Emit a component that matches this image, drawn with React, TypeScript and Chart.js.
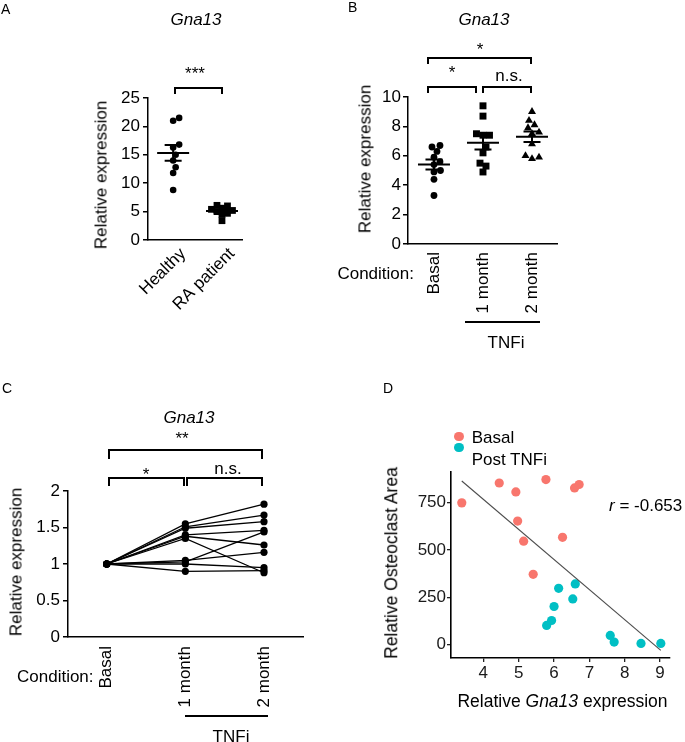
import React, { useEffect, useRef } from 'react';
import { Chart, registerables } from 'chart.js';

Chart.register(...registerables);

const FONT = "'Liberation Sans', Arial, Helvetica, sans-serif";

// ---------------- Panel A data ----------------
const aCategories = ['Healthy', 'RA patient'];
const aHealthy = [21.5, 21.0, 16.8, 16.3, 15.0, 14.0, 12.8, 11.8, 8.8];
const aRA = [6.1, 6.0, 5.6, 5.4, 5.2, 5.0, 4.7, 4.5, 3.4];
const aYTicks = [0, 5, 10, 15, 20, 25];

// ---------------- Panel B data ----------------
const bCategories = ['Basal', '1 month', '2 month'];
const bBasal = [6.7, 6.6, 6.3, 5.9, 5.6, 5.4, 5.0, 4.9, 4.4, 3.3];
const bMonth1 = [9.4, 8.7, 7.5, 7.4, 7.4, 6.6, 6.2, 5.5, 5.3, 4.9];
const bMonth2 = [9.0, 8.4, 8.1, 7.9, 7.6, 7.5, 6.8, 6.0, 5.9, 5.8];
const bYTicks = [0, 2, 4, 6, 8, 10];

// ---------------- Panel C data ----------------
const cCategories = ['Basal', '1 month', '2 month'];
const cBasal = [1, 1, 1, 1, 1, 1, 1, 1, 1, 1];
const cMonth1 = [1.55, 1.51, 1.49, 1.40, 1.38, 1.35, 1.03, 1.05, 1.00, 0.90];
const cMonth2 = [1.82, 1.67, 1.58, 1.46, 1.26, 0.88, 1.44, 1.16, 0.95, 0.91];
const cYTicks = [0, 0.5, 1, 1.5, 2];

// ---------------- Panel D data ----------------
const dBasalX = [3.39, 4.45, 4.92, 5.77, 6.58, 6.71, 4.97, 5.14, 6.24, 5.41];
const dBasalY = [749, 854, 807, 872, 828, 846, 653, 547, 567, 372];
const dPostX = [6.13, 6.60, 6.53, 6.00, 5.93, 5.79, 7.59, 7.70, 8.46, 9.02];
const dPostY = [298, 321, 242, 202, 128, 102, 49, 14, 7, 7];
const dXTicks = [4, 5, 6, 7, 8, 9];
const dYTicks = [0, 250, 500, 750];
const dLegend = ['Basal', 'Post TNFi'];
const dColors = ['#F8766D', '#00BFC4'];

// ---------------- layout helpers ----------------
type Box = { x: number; y: number; w: number; h: number };
type Area = { l: number; t: number; r: number; b: number };
const YW = 40;
const XH_CAT = 90;
const XH_D = 30;

const boxA: Box = { x: 0, y: 0, w: 260, h: 340 };
const areaA: Area = { l: 148, t: 98, r: 242, b: 240 };
const xRangeA = [0.485, 2.41];
const boxB: Box = { x: 330, y: 0, w: 240, h: 340 };
const areaB: Area = { l: 408, t: 97, r: 557, b: 244 };
const xRangeB = [0.47, 3.51];
const boxC: Box = { x: 0, y: 370, w: 330, h: 372 };
const areaC: Area = { l: 68, t: 491, r: 303, b: 637 };
const xRangeC = [0.508, 3.496];
const boxD: Box = { x: 340, y: 380, w: 345, h: 362 };
const areaD: Area = { l: 451, t: 472, r: 670, b: 658 };
const xRangeD = [3.085, 9.28];
const yRangeD = [-70, 912];

function layoutFor(box: Box, area: Area, xh: number) {
  return {
    padding: {
      left: area.l - box.x - YW,
      top: area.t - box.y,
      right: box.x + box.w - area.r,
      bottom: box.y + box.h - area.b - xh,
    },
  };
}

function yAxis(min: number, max: number, ticks: number[], tickLen: number, pad: number) {
  return {
    type: 'linear',
    min,
    max,
    afterBuildTicks: (s: any) => {
      s.ticks = ticks.map((v) => ({ value: v }));
    },
    afterFit: (s: any) => {
      s.width = YW;
    },
    grid: { display: true, drawOnChartArea: false, drawTicks: true, tickLength: tickLen, color: '#000', lineWidth: 1.5 },
    border: { display: true, color: '#000', width: 1.5 },
    ticks: { font: { family: FONT, size: 17 }, color: '#000', padding: pad, callback: (v: any) => `${v}` },
  };
}

function xCatAxis(range: number[], cats: string[], rotation: number, pad: number, labelOffset = 0) {
  return {
    type: 'linear',
    min: range[0],
    max: range[1],
    afterBuildTicks: (s: any) => {
      s.ticks = cats.map((_, i) => ({ value: i + 1 }));
    },
    afterFit: (s: any) => {
      s.height = XH_CAT;
    },
    grid: { display: false, drawTicks: false },
    border: { display: true, color: '#000', width: 1.5 },
    ticks: {
      autoSkip: false,
      minRotation: rotation,
      maxRotation: rotation,
      labelOffset,
      font: { family: FONT, size: 17 },
      color: '#000',
      padding: pad,
      callback: (v: any) => cats[Math.round(v) - 1] ?? '',
    },
  };
}

// beeswarm offsets (pixels) computed from values
function swarm(values: number[], pxPerY: number, diam: number): number[] {
  const order = values.map((_, i) => i).sort((a, b) => values[a] - values[b]);
  const placed: { x: number; y: number }[] = [];
  const out = new Array(values.length).fill(0);
  for (const i of order) {
    const y = values[i] * pxPerY;
    let best = 0;
    for (let k = 0; k < 400; k++) {
      const cand = k === 0 ? 0 : (k % 2 ? 1 : -1) * Math.ceil(k / 2) * 0.5;
      if (placed.every((p) => Math.hypot(p.x - cand, p.y - y) >= diam)) {
        best = cand;
        break;
      }
    }
    placed.push({ x: best, y });
    out[i] = best;
  }
  return out;
}

function swarmPoints(values: number[], cat: number, area: Area, xr: number[], yMax: number, diam: number) {
  const pxPerY = (area.b - area.t) / yMax;
  const pxPerX = (area.r - area.l) / (xr[1] - xr[0]);
  const offs = swarm(values, pxPerY, diam);
  return values.map((v, i) => ({ x: cat + offs[i] / pxPerX, y: v }));
}

const meanSemPlugin = {
  id: 'meanSem',
  afterDatasetsDraw(chart: any) {
    const { ctx } = chart;
    const x = chart.scales.x;
    const y = chart.scales.y;
    chart.data.datasets.forEach((ds: any) => {
      if (!ds.raw) return;
      const vals: number[] = ds.raw;
      const n = vals.length;
      const mean = vals.reduce((a, b) => a + b, 0) / n;
      const sd = Math.sqrt(vals.reduce((a, b) => a + (b - mean) ** 2, 0) / (n - 1));
      const sem = sd / Math.sqrt(n);
      const cx = x.getPixelForValue(ds.cat);
      const ym = y.getPixelForValue(mean);
      const yt = y.getPixelForValue(mean + sem);
      const yb = y.getPixelForValue(mean - sem);
      ctx.save();
      ctx.strokeStyle = '#000';
      ctx.lineWidth = 2;
      ctx.beginPath();
      ctx.moveTo(cx - 16, ym);
      ctx.lineTo(cx + 16, ym);
      ctx.moveTo(cx - 8.5, yt);
      ctx.lineTo(cx + 8.5, yt);
      ctx.moveTo(cx - 8.5, yb);
      ctx.lineTo(cx + 8.5, yb);
      ctx.moveTo(cx, yt);
      ctx.lineTo(cx, yb);
      ctx.stroke();
      ctx.restore();
    });
  },
};

function groupDataset(values: number[], cat: number, area: Area, xr: number[], yMax: number, style: string, radius: number, diam: number) {
  return {
    type: 'scatter',
    data: swarmPoints(values, cat, area, xr, yMax, diam),
    raw: values,
    cat,
    pointStyle: style,
    pointRadius: radius,
    pointHoverRadius: radius,
    backgroundColor: '#000',
    borderColor: '#000',
    borderWidth: 0,
  };
}

function makeA() {
  return {
    type: 'scatter',
    data: {
      datasets: [
        groupDataset(aHealthy, 1, areaA, xRangeA, 25, 'circle', 3.3, 6.2),
        groupDataset(aRA, 2, areaA, xRangeA, 25, 'rect', 4.8, 5.5),
      ],
    },
    options: {
      responsive: false,
      animation: false,
      devicePixelRatio: 1,
      layout: layoutFor(boxA, areaA, XH_CAT),
      plugins: { legend: { display: false }, tooltip: { enabled: false } },
      scales: {
        x: xCatAxis(xRangeA, aCategories, 45, 4, 10),
        y: yAxis(0, 25, aYTicks, 5, 3),
      },
    },
    plugins: [meanSemPlugin],
  };
}

function makeB() {
  return {
    type: 'scatter',
    data: {
      datasets: [
        groupDataset(bBasal, 1, areaB, xRangeB, 10, 'circle', 3.4, 6.5),
        groupDataset(bMonth1, 2, areaB, xRangeB, 10, 'rect', 4.9, 6.5),
        groupDataset(bMonth2, 3, areaB, xRangeB, 10, 'triangle', 4.6, 7),
      ],
    },
    options: {
      responsive: false,
      animation: false,
      devicePixelRatio: 1,
      layout: layoutFor(boxB, areaB, XH_CAT),
      plugins: { legend: { display: false }, tooltip: { enabled: false } },
      scales: {
        x: xCatAxis(xRangeB, bCategories, 90, 8),
        y: yAxis(0, 10, bYTicks, 5, 2),
      },
    },
    plugins: [meanSemPlugin],
  };
}

function makeC() {
  const datasets = cMonth1.map((_, i) => ({
    type: 'line',
    data: [
      { x: 1, y: cBasal[i] },
      { x: 2, y: cMonth1[i] },
      { x: 3, y: cMonth2[i] },
    ],
    borderColor: '#000',
    borderWidth: 1.3,
    pointRadius: 3.6,
    pointHoverRadius: 3.6,
    pointBackgroundColor: '#000',
    pointBorderWidth: 0,
    tension: 0,
  }));
  return {
    type: 'line',
    data: { datasets },
    options: {
      responsive: false,
      animation: false,
      devicePixelRatio: 1,
      layout: layoutFor(boxC, areaC, XH_CAT),
      plugins: { legend: { display: false }, tooltip: { enabled: false } },
      scales: {
        x: xCatAxis(xRangeC, cCategories, 90, 9),
        y: yAxis(0, 2, cYTicks, 5, 3),
      },
    },
  };
}

function makeD() {
  const xs = [...dBasalX, ...dPostX];
  const ys = [...dBasalY, ...dPostY];
  const n = xs.length;
  const mx = xs.reduce((a, b) => a + b, 0) / n;
  const my = ys.reduce((a, b) => a + b, 0) / n;
  let sxy = 0;
  let sxx = 0;
  for (let i = 0; i < n; i++) {
    sxy += (xs[i] - mx) * (ys[i] - my);
    sxx += (xs[i] - mx) ** 2;
  }
  const slope = sxy / sxx;
  const icpt = my - slope * mx;
  const x0 = Math.min(...xs);
  const x1 = Math.max(...xs);
  return {
    type: 'scatter',
    data: {
      datasets: [
        {
          type: 'line',
          data: [
            { x: x0, y: icpt + slope * x0 },
            { x: x1, y: icpt + slope * x1 },
          ],
          borderColor: '#4d4d4d',
          borderWidth: 1.1,
          pointRadius: 0,
        },
        {
          label: dLegend[0],
          data: dBasalX.map((x, i) => ({ x, y: dBasalY[i] })),
          backgroundColor: dColors[0],
          borderWidth: 0,
          pointRadius: 4.6,
          pointHoverRadius: 4.6,
        },
        {
          label: dLegend[1],
          data: dPostX.map((x, i) => ({ x, y: dPostY[i] })),
          backgroundColor: dColors[1],
          borderWidth: 0,
          pointRadius: 4.6,
          pointHoverRadius: 4.6,
        },
      ],
    },
    options: {
      responsive: false,
      animation: false,
      devicePixelRatio: 1,
      layout: layoutFor(boxD, areaD, XH_D),
      plugins: { legend: { display: false }, tooltip: { enabled: false } },
      scales: {
        x: {
          type: 'linear',
          min: xRangeD[0],
          max: xRangeD[1],
          afterBuildTicks: (s: any) => {
            s.ticks = dXTicks.map((v) => ({ value: v }));
          },
          afterFit: (s: any) => {
            s.height = XH_D;
          },
          grid: { display: true, drawOnChartArea: false, drawTicks: true, tickLength: 4, color: '#222', lineWidth: 1.3 },
          border: { display: true, color: '#000', width: 1.6 },
          ticks: { font: { family: FONT, size: 17 }, color: '#1a1a1a', padding: 1 },
        },
        y: {
          type: 'linear',
          min: yRangeD[0],
          max: yRangeD[1],
          afterBuildTicks: (s: any) => {
            s.ticks = dYTicks.map((v) => ({ value: v }));
          },
          afterFit: (s: any) => {
            s.width = YW;
          },
          grid: { display: true, drawOnChartArea: false, drawTicks: true, tickLength: 4, color: '#222', lineWidth: 1.3 },
          border: { display: true, color: '#000', width: 1.6 },
          ticks: { font: { family: FONT, size: 17 }, color: '#1a1a1a', padding: 1 },
        },
      },
    },
  };
}

function ChartCanvas({ box, make }: { box: Box; make: () => any }) {
  const ref = useRef<HTMLCanvasElement>(null);
  useEffect(() => {
    const chart = new Chart(ref.current as HTMLCanvasElement, make());
    return () => chart.destroy();
  }, []);
  return (
    <canvas
      ref={ref}
      width={box.w}
      height={box.h}
      style={{ position: 'absolute', left: box.x, top: box.y, width: box.w, height: box.h }}
    />
  );
}

// ---------------- text helpers ----------------
function Txt({ x, y, children, size = 17, align = 'left', italic = false, color = '#000' }: any) {
  const tx = align === 'center' ? 'translateX(-50%)' : align === 'right' ? 'translateX(-100%)' : 'none';
  return (
    <div
      style={{
        position: 'absolute',
        left: x,
        top: y - 0.8465 * size,
        fontSize: size,
        lineHeight: `${size}px`,
        fontFamily: FONT,
        fontStyle: italic ? 'italic' : 'normal',
        whiteSpace: 'nowrap',
        transform: tx,
        color,
      }}
    >
      {children}
    </div>
  );
}

function VTxt({ cx, cy, children, size = 17 }: any) {
  return (
    <div
      style={{
        position: 'absolute',
        left: cx,
        top: cy,
        fontSize: size,
        lineHeight: `${size}px`,
        fontFamily: FONT,
        whiteSpace: 'nowrap',
        color: '#000',
        transform: 'translate(-50%, -50%) rotate(-90deg)',
      }}
    >
      {children}
    </div>
  );
}

function Bracket({ x1, x2, y, h }: any) {
  return (
    <div
      style={{
        position: 'absolute',
        left: x1 - 1,
        top: y - 1,
        width: x2 - x1 + 2,
        height: h,
        border: '2px solid #000',
        borderBottom: 'none',
        boxSizing: 'border-box',
      }}
    />
  );
}

function HLine({ x1, x2, y }: any) {
  return <div style={{ position: 'absolute', left: x1, top: y - 1, width: x2 - x1, height: 2, background: '#000' }} />;
}

function Dot({ cx, cy, color }: any) {
  return (
    <div
      style={{
        position: 'absolute',
        left: cx - 4.6,
        top: cy - 4.6,
        width: 9.2,
        height: 9.2,
        borderRadius: '50%',
        background: color,
      }}
    />
  );
}

export default function App() {
  return (
    <div
      style={{
        position: 'absolute',
        left: 0,
        top: 0,
        width: 685,
        height: 742,
        background: '#fff',
        overflow: 'hidden',
        fontFamily: FONT,
      }}
    >
      <ChartCanvas box={boxA} make={makeA} />
      <ChartCanvas box={boxB} make={makeB} />
      <ChartCanvas box={boxC} make={makeC} />
      <ChartCanvas box={boxD} make={makeD} />

      {/* Panel A */}
      <Txt x={1} y={13.5} size={14}>A</Txt>
      <Txt x={196} y={25} align="center" italic>Gna13</Txt>
      <Txt x={195} y={79} align="center">***</Txt>
      <Bracket x1={175} x2={222} y={87.7} h={7} />
      <VTxt cx={101} cy={175}>Relative expression</VTxt>

      {/* Panel B */}
      <Txt x={348} y={11.7} size={14}>B</Txt>
      <Txt x={484} y={25} align="center" italic>Gna13</Txt>
      <Txt x={480} y={55.5} align="center">*</Txt>
      <Bracket x1={428} x2={531} y={58.3} h={7} />
      <Txt x={452} y={78} align="center">*</Txt>
      <Txt x={509} y={81.7} align="center">n.s.</Txt>
      <Bracket x1={428} x2={476} y={86.7} h={7} />
      <Bracket x1={483} x2={531} y={86.7} h={7} />
      <VTxt cx={364.5} cy={159}>Relative expression</VTxt>
      <Txt x={414} y={279} align="right">Condition:</Txt>
      <HLine x1={465} x2={540} y={321.7} />
      <Txt x={506} y={348} align="center">TNFi</Txt>

      {/* Panel C */}
      <Txt x={2} y={392.7} size={14}>C</Txt>
      <Txt x={189} y={423.3} align="center" italic>Gna13</Txt>
      <Txt x={182} y={444} align="center">**</Txt>
      <Bracket x1={109} x2={262} y={450} h={9.5} />
      <Txt x={146} y={480} align="center">*</Txt>
      <Txt x={228} y={474.5} align="center">n.s.</Txt>
      <Bracket x1={109} x2={183.7} y={477.7} h={9.6} />
      <Bracket x1={187} x2={262} y={477.7} h={9.6} />
      <VTxt cx={15.5} cy={562}>Relative expression</VTxt>
      <Txt x={17} y={682}>Condition:</Txt>
      <HLine x1={185} x2={268} y={715.7} />
      <Txt x={231} y={742} align="center">TNFi</Txt>

      {/* Panel D */}
      <Txt x={383} y={392.7} size={14}>D</Txt>
      <Dot cx={459} cy={436.7} color={dColors[0]} />
      <Txt x={471.7} y={443.3}>{dLegend[0]}</Txt>
      <Dot cx={459} cy={447.7} color={dColors[1]} />
      <Txt x={471.7} y={465}>{dLegend[1]}</Txt>
      <Txt x={609} y={511.7}>
        <span style={{ fontStyle: 'italic' }}>r</span> = -0.653
      </Txt>
      <VTxt cx={391.5} cy={562.5} size={17.5}>Relative Osteoclast Area</VTxt>
      <Txt x={562.5} y={708.3} align="center" size={17.5}>
        Relative <span style={{ fontStyle: 'italic' }}>Gna13</span> expression
      </Txt>
    </div>
  );
}
